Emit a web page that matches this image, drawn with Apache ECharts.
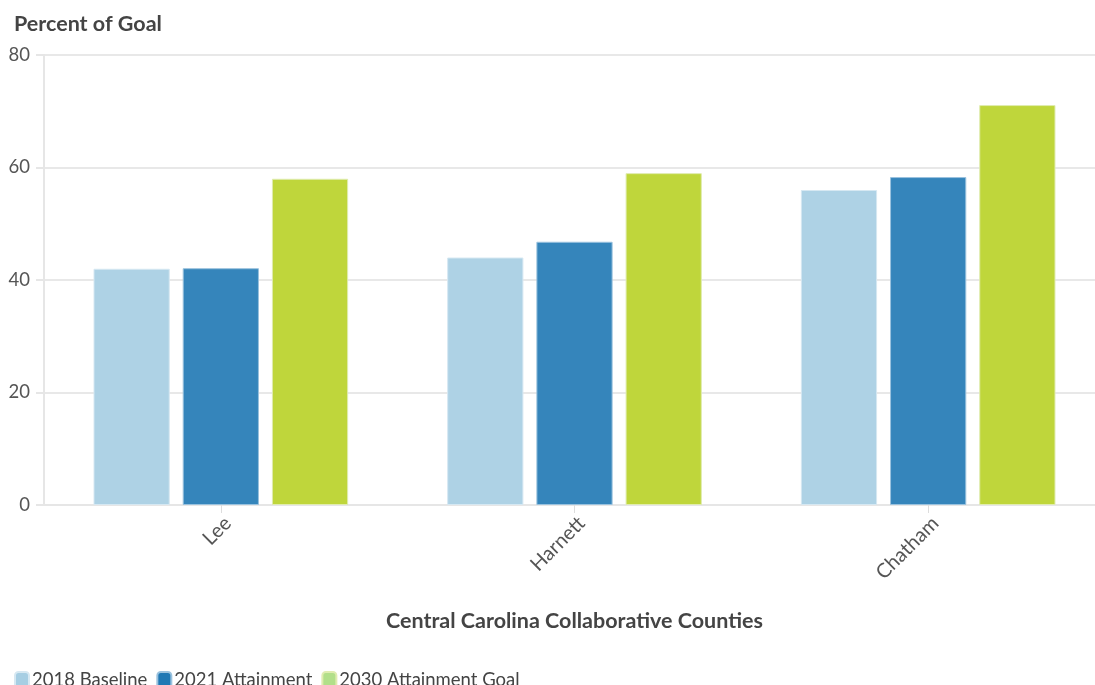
<!DOCTYPE html>
<html>
<head>
<meta charset="utf-8">
<script src="https://cdn.jsdelivr.net/npm/echarts@6/dist/echarts.min.js"></script>
<style>
  html, body { margin: 0; padding: 0; background: #fff; overflow: hidden; }
  #chart-div { width: 1112px; height: 685px; }
</style>
</head>
<body>
<div id="chart-div"></div>
<script>
// data
var counties = ['Lee', 'Harnett', 'Chatham'];
var baseline2018 = [42, 44, 56];
var attainment2021 = [42.1, 46.8, 58.3];
var goal2030 = [58, 59, 71.1];
var yTicks = [0, 20, 40, 60, 80];

var fontFam = 'Lato, "Open Sans", sans-serif';

var chartDom = document.getElementById('chart-div');
var myChart = echarts.init(chartDom);
var option;

option = {
    animation: false,
    title: {
        text: 'Percent of Goal',
        left: 9,
        top: 8,
        textStyle: {
            fontFamily: fontFam,
            fontSize: 21.5,
            fontWeight: 'bold',
            color: '#444'
        }
    },
    legend: {
        left: 9,
        top: 666,
        itemWidth: 14,
        itemHeight: 17,
        itemGap: 9,
        icon: 'roundRect',
        selectedMode: false,
        textStyle: {
            fontFamily: fontFam,
            fontSize: 18.5,
            color: '#444',
            padding: [0, 0, 0, -2]
        },
        data: [
            { name: '2018 Baseline', itemStyle: { color: '#a6cee3' } },
            { name: '2021 Attainment', itemStyle: { color: '#1f78b4' } },
            { name: '2030 Attainment Goal', itemStyle: { color: '#b2df8a' } }
        ]
    },
    grid: {
        left: 44,
        width: 1061,
        top: 55,
        height: 450,
        containLabel: false
    },
    xAxis: [
        {
            type: 'category',
            data: counties,
            name: 'Central Carolina Collaborative Counties',
            nameLocation: 'middle',
            nameGap: 105,
            nameTextStyle: {
                fontFamily: fontFam,
                fontSize: 21.5,
                fontWeight: 'bold',
                color: '#444'
            },
            axisLine: { lineStyle: { color: '#e6e6e6', width: 2 } },
            axisTick: { show: true, alignWithLabel: true, length: 8, lineStyle: { color: '#ddd' } },
            axisLabel: {
                rotate: 45,
                margin: 8,
                verticalAlign: 'top',
                fontFamily: fontFam,
                fontSize: 20,
                color: '#555'
            }
        }
    ],
    yAxis: [
        {
            type: 'value',
            min: yTicks[0],
            max: yTicks[yTicks.length - 1],
            interval: 20,
            axisLine: { show: true, lineStyle: { color: '#e6e6e6', width: 2 } },
            axisTick: { show: true, length: 8, lineStyle: { color: '#e6e6e6', width: 2 } },
            splitLine: { lineStyle: { color: '#e8e8e8', width: 2 } },
            axisLabel: {
                margin: 14,
                fontFamily: fontFam,
                fontSize: 18.5,
                color: '#555'
            }
        }
    ],
    series: [
        {
            name: '2018 Baseline',
            type: 'bar',
            barGap: '17%',
            barCategoryGap: '28%',
            itemStyle: { color: '#aed2e5', borderColor: '#d6e8f2', borderWidth: 1 },
            data: baseline2018
        },
        {
            name: '2021 Attainment',
            type: 'bar',
            itemStyle: { color: '#3585bb', borderColor: '#9ac2de', borderWidth: 1 },
            data: attainment2021
        },
        {
            name: '2030 Attainment Goal',
            type: 'bar',
            itemStyle: { color: '#bfd63b', borderColor: '#e0ecb0', borderWidth: 1 },
            data: goal2030
        }
    ]
};

if (option && typeof option === 'object') {
    myChart.setOption(option);
}
</script>
</body>
</html>
